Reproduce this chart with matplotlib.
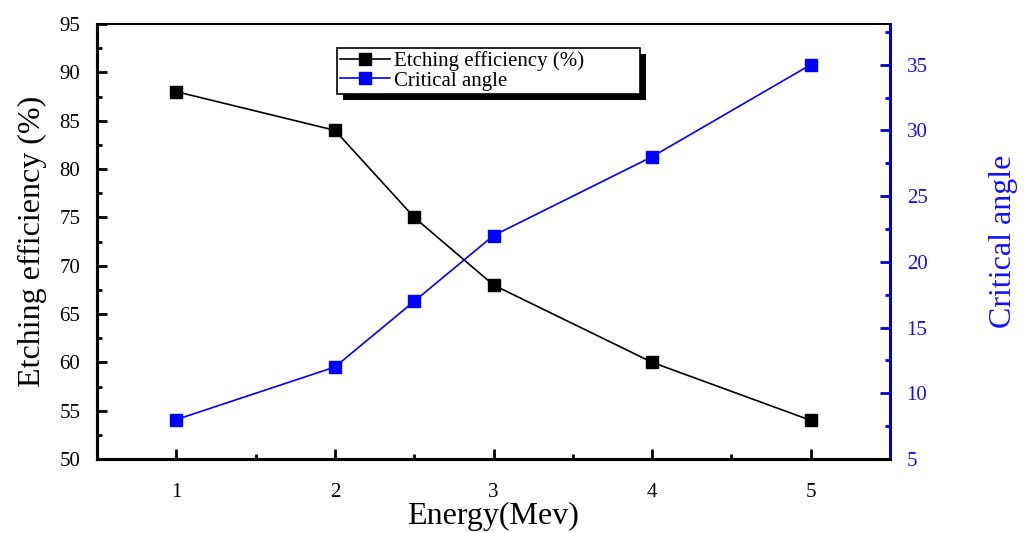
import matplotlib
import matplotlib.pyplot as plt
from matplotlib.patches import Rectangle

matplotlib.rcParams.update({'font.family': 'serif',
                            'font.serif': ['Liberation Serif', 'DejaVu Serif'],
                            'font.size': 15})

energy = [1, 2, 2.5, 3, 4, 5]
efficiency = [88, 84, 75, 68, 60, 54]
crit_angle = [8, 12, 17, 22, 28, 35]

navy = '#0000c8'
blue = '#1010ff'

f = plt.figure(figsize=(10.25, 5.33), dpi=100)
ax = f.add_axes([97/1025, 1 - 459/533, (890 - 97)/1025, (459 - 24)/533])
ax2 = ax.twinx()

l1, = ax.plot(energy, efficiency, color='black', lw=1.2, marker='s', ms=8.5,
              label='Etching efficiency (%)')
l2, = ax2.plot(energy, crit_angle, color='blue', lw=1.2, marker='s', ms=8.5,
               label='Critical angle')

ax.set_xlim(0.5, 5.5)
ax.set_ylim(50, 95)
ax2.set_ylim(5, 38.1)
ax.set_xticks([1, 2, 3, 4, 5])
ax.set_xticks([1.5, 2.5, 3.5, 4.5], minor=True)
ax.set_yticks(range(50, 96, 5))
ax.set_yticks([52.5 + 5*i for i in range(9)], minor=True)
ax2.set_yticks(range(5, 36, 5))
ax2.set_yticks([7.5 + 5*i for i in range(7)], minor=True)

for s in ['left', 'bottom']:
    ax.spines[s].set_linewidth(2.2)
    ax2.spines[s].set_linewidth(2.2)
ax.spines['top'].set_linewidth(1.4)
ax2.spines['top'].set_linewidth(1.4)
ax2.spines['right'].set_linewidth(2.2)
ax2.spines['right'].set_color(navy)
ax.spines['right'].set_visible(False)

ax.tick_params(axis='x', which='both', direction='in', top=False)
ax.tick_params(axis='x', which='major', length=7, width=2, pad=17)
ax.tick_params(axis='x', which='minor', length=3.5, width=2)
ax.tick_params(axis='y', which='both', direction='in', right=False)
ax.tick_params(axis='y', which='major', length=7, width=2, pad=12)
ax.tick_params(axis='y', which='minor', length=3.5, width=2)
ax2.tick_params(axis='y', which='both', direction='in', color=navy, labelcolor=blue)
ax2.tick_params(axis='y', which='major', length=7, width=2, pad=12)
ax2.tick_params(axis='y', which='minor', length=3.5, width=2)

ax.set_xlabel('Energy(Mev)', fontsize=23, labelpad=0)
ax.set_ylabel('Etching efficiency (%)', fontsize=23, labelpad=9)
ax2.set_ylabel('Critical angle', fontsize=23, color=blue, labelpad=44)

# legend box spans a fixed width (mode='expand'), like the original
leg = ax2.legend([l1, l2], [l1.get_label(), l2.get_label()],
                 loc='upper left',
                 bbox_to_anchor=(337/1025, 1 - 96/533, 303/1025, 48/533),
                 bbox_transform=f.transFigure, mode='expand', fontsize=15,
                 fancybox=False, framealpha=1, edgecolor='black',
                 handlelength=2.4, handletextpad=0.2, labelspacing=0.0,
                 borderpad=0.15, borderaxespad=0)
leg.get_frame().set_linewidth(1.2)

f.canvas.draw()
bb = leg.get_window_extent()
shadow = Rectangle((bb.x0 + 6, bb.y0 - 6), bb.width, bb.height,
                   transform=None, facecolor='black', edgecolor='none',
                   clip_on=False, zorder=leg.get_zorder() - 0.1)
ax2.add_artist(shadow)
ax2.set_zorder(2)
ax2.patch.set_visible(False)

f.savefig("out.png", dpi=100)
